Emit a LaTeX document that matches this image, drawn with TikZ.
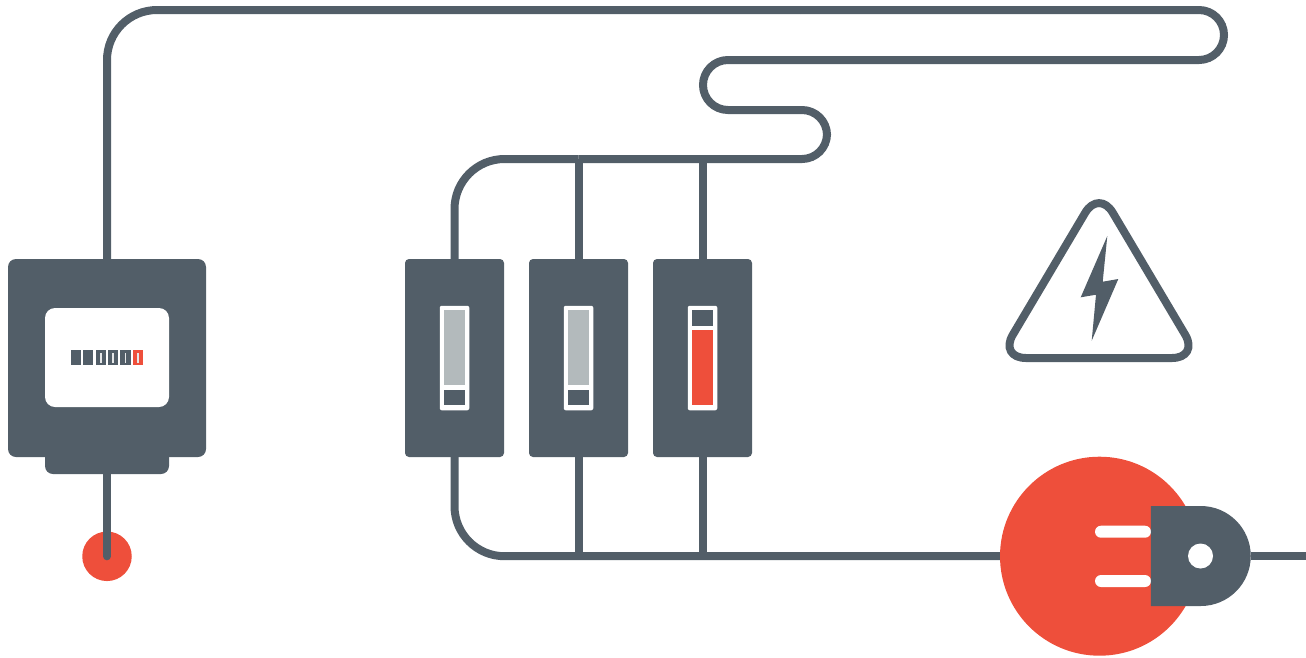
\documentclass[tikz,border=0pt]{standalone}
\usetikzlibrary{shapes.misc}
\definecolor{slate}{HTML}{525E68}
\definecolor{alarm}{HTML}{EE4F3B}
\definecolor{ash}{HTML}{B3BABC}

\begin{document}
\begin{tikzpicture}[x=1pt, y=-1pt, node distance=124pt]

% Styles
\tikzstyle{part} = [rectangle, inner sep=0pt, outer sep=0pt]
\tikzstyle{wire} = [draw=slate, line width=8pt]
\tikzstyle{fuse} = [part, fill=slate, minimum width=99pt, minimum height=198pt, rounded corners=4pt]
\tikzstyle{slot} = [part, fill=white, minimum width=29.5pt, minimum height=104.5pt, rounded corners=2pt]
\tikzstyle{digit} = [part, fill=slate, minimum width=10.5pt, minimum height=15pt]
\tikzstyle{tick} = [part, fill=white!85!slate, minimum width=1.5pt, minimum height=10pt]
\tikzstyle{prong} = [part, fill=white, minimum width=56pt, minimum height=12pt, rounded corners=6pt]

\useasboundingbox (0,0) rectangle (1306,657);

% Meter
\node[part, fill=slate, minimum width=124pt, minimum height=34pt, rounded corners=8pt] (foot) at (107,457) {};
\node[part, fill=slate, minimum width=198pt, minimum height=198pt, rounded corners=8pt] (meter) at (107,358) {};
\node[part, fill=white, minimum width=124pt, minimum height=99pt, rounded corners=10pt] (window) at (107,357.5) {};
\foreach \n/\xx in {1/76, 2/88.2, 3/100.8, 4/113, 5/125.5}
  \node[digit] (digit\n) at (\xx,357.5) {};
\node[digit, fill=alarm] (digit6) at (138.2,357.5) {};
\foreach \n in {3,4,5,6}
  \node[tick] (tick\n) at (digit\n) {};
\node[circle, fill=alarm, inner sep=0pt, minimum size=49.5pt] (dot) at (107,556.3) {};
\draw[wire, line cap=round] (foot.south) -- (dot.center);

% Fuses
\node[fuse] (fuseA) at (454.5,358) {};
\node[fuse, right of=fuseA] (fuseB) {};
\node[fuse, right of=fuseB] (fuseC) {};
\foreach \f in {A,B,C}
  \node[slot] (slot\f) at (fuse\f) {};
\foreach \f in {A,B} {
  \node[part, fill=ash, minimum width=21pt, minimum height=74.7pt, yshift=10.4pt] (glass\f) at (slot\f) {};
  \node[part, fill=slate, minimum width=21pt, minimum height=15.6pt, yshift=-39.5pt] (cap\f) at (slot\f) {};
}
\node[part, fill=slate, minimum width=21pt, minimum height=15.6pt, yshift=39.8pt] (capC) at (slotC) {};
\node[part, fill=alarm, minimum width=21pt, minimum height=75.3pt, yshift=-9.6pt] (glassC) at (slotC) {};

% Plug
\node[circle, fill=alarm, inner sep=0pt, minimum size=199pt] (ball) at (1099.5,556.2) {};
\node[prong] (prongA) at (1123,531.7) {};
\node[prong] (prongB) at (1123,581) {};
\node[part, rounded rectangle, rounded rectangle west arc=none, fill=slate, minimum width=99.5pt, minimum height=100pt] (plug) at (1200.75,556) {};
\node[circle, fill=white, inner sep=0pt, minimum size=25pt] (hole) at (1200.5,556) {};

% Wires
\coordinate (topmid) at (800,10);
\coordinate (bendA) at (1224,10);
\coordinate (bendB) at (1224,60);
\coordinate (bendC) at (703,60);
\coordinate (bendD) at (703,110);
\coordinate (bendE) at (827,110);
\coordinate (bendF) at (827,159);
\coordinate (bus) at (578.5,159);
\draw[wire, rounded corners=50pt] (meter.north) |- (topmid);
\draw[wire, rounded corners=25pt] (topmid) -- (bendA) -- (bendB) -- (bendC) -- (bendD) -- (bendE) -- (bendF) -- (bus);
\draw[wire, rounded corners=50pt] (bus) -| (fuseA.north);
\draw[wire] (bus) -- (fuseB.north);
\draw[wire] (fuseC.north) -- (fuseC.north |- bus);
\draw[wire, rounded corners=50pt] (fuseA.south) |- (ball.west);
\draw[wire] (fuseB.south) -- (fuseB.south |- ball.west);
\draw[wire] (fuseC.south) -- (fuseC.south |- ball.west);
\draw[wire] (plug.east) -- (1306,556);

% Warning sign
\draw[draw=slate, line width=8pt, rounded corners=27pt] (1099,358) -- (999,358) -- (1099,189.5) -- (1199,358) -- cycle;
\fill[slate] (1107.3,236) -- (1102.7,281.7) -- (1118.3,279) -- (1091.7,340.7) -- (1096,294.7) -- (1080.7,297.3) -- cycle;

\end{tikzpicture}
\end{document}
